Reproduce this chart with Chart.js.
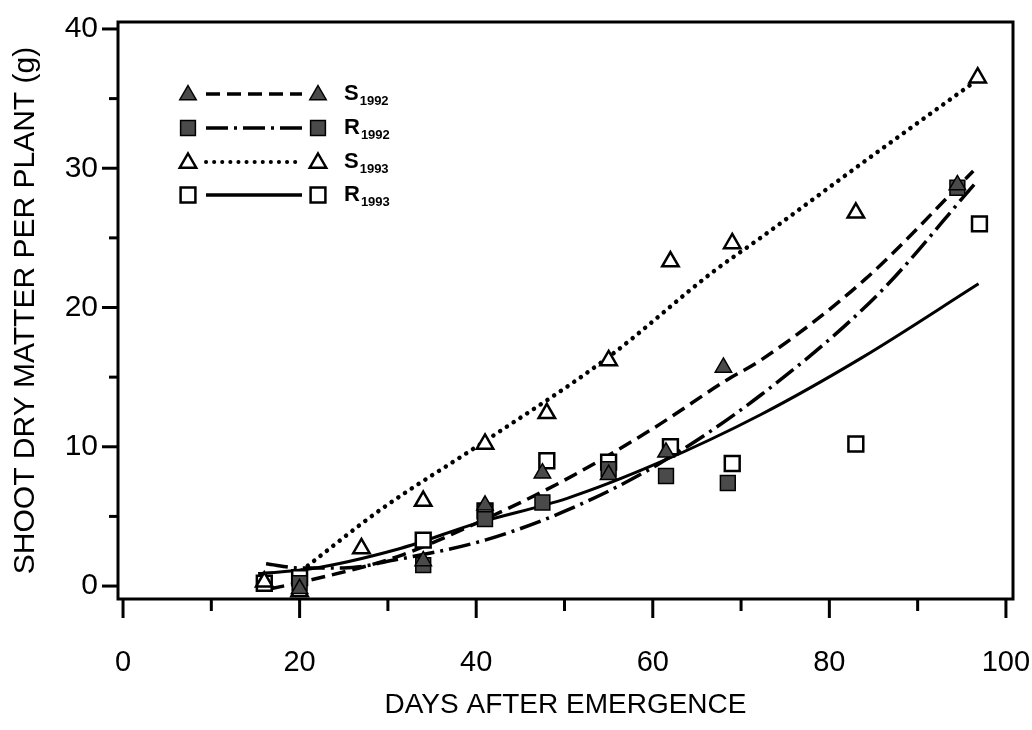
<!DOCTYPE html>
<html>
<head>
<meta charset="utf-8">
<script src="https://cdn.jsdelivr.net/npm/chart.js@4.4.1/dist/chart.umd.min.js"></script>
<style>
  html, body { margin: 0; padding: 0; background: #fff; }
  #wrap { width: 1032px; height: 730px; position: relative; }
</style>
</head>
<body>
<div id="wrap"><canvas id="chart"></canvas></div>
<script>
// measured points
const daysS1992 = [20, 34, 41, 47.5, 55, 61.5, 68, 94.5];
const valsS1992 = [-0.2, 1.8, 5.8, 8.1, 8.0, 9.6, 15.7, 28.8];
const daysR1992 = [20, 34, 41, 47.5, 55, 61.5, 68.5, 94.5];
const valsR1992 = [0.2, 1.5, 4.8, 6.0, 8.4, 7.9, 7.4, 28.6];
const daysS1993 = [16, 20, 27, 34, 41, 48, 55, 62, 69, 83, 96.8];
const valsS1993 = [0.3, -0.4, 2.7, 6.1, 10.2, 12.4, 16.2, 23.3, 24.6, 26.8, 36.5];
const daysR1993 = [16, 20, 34, 41, 48, 55, 62, 69, 83, 97];
const valsR1993 = [0.2, 0.6, 3.3, 5.4, 9.0, 8.9, 10.0, 8.8, 10.2, 26.0];

// fitted curves
const fitDaysS1992 = [16.7, 21, 31, 41, 50, 60, 68.4, 72.2, 84, 96.3];
const fitValsS1992 = [-0.2, 0.4, 2.1, 4.8, 7.6, 11.3, 14.8, 16.2, 22.0, 29.8];
const fitDaysR1992 = [16.2, 20, 25, 31, 41, 50.5, 60.5, 72.2, 85.6, 96.5];
const fitValsR1992 = [1.6, 1.3, 1.3, 1.9, 3.3, 5.5, 8.7, 13.7, 21.0, 28.9];
const fitDaysS1993 = [20.2, 29.2, 40.5, 54.9, 66.9, 72.2, 84, 96];
const fitValsS1993 = [1.1, 5.5, 10.2, 16.4, 22.6, 25.0, 30.5, 36.0];
const fitDaysR1993 = [15.3, 20.9, 31.4, 40, 50.3, 60.5, 72.2, 83.7, 96.9];
const fitValsR1993 = [0.9, 1.2, 2.7, 4.5, 6.3, 8.8, 12.3, 16.4, 21.7];

const xMajor = [0, 20, 40, 60, 80, 100];
const xMinor = [10, 30, 50, 70, 90];
const yMajor = [0, 10, 20, 30, 40];
const yMinor = [5, 15, 25, 35];

const legendRows = [
  { label: 'S', sub: '1992', style: 'triangle', filled: true, dash: [14, 7] },
  { label: 'R', sub: '1992', style: 'rect', filled: true, dash: [22, 6, 3, 6] },
  { label: 'S', sub: '1993', style: 'triangle', filled: false, dash: [0.1, 8] },
  { label: 'R', sub: '1993', style: 'rect', filled: false, dash: [] }
];

const GREY = '#4a4a4a';
const pts = (xs, ys) => xs.map((x, i) => ({ x: x, y: ys[i] }));

function markerSet(xs, ys, style, filled) {
  return {
    data: pts(xs, ys),
    showLine: false,
    pointStyle: style,
    pointRadius: style === 'triangle' ? 9.5 : 10.5,
    pointBackgroundColor: filled ? GREY : '#fff',
    pointBorderColor: '#000',
    pointBorderWidth: filled ? 1.5 : 2.5,
    order: filled ? 0 : 1
  };
}

function curveSet(xs, ys, dash, width, cap) {
  return {
    data: pts(xs, ys),
    showLine: true,
    pointRadius: 0,
    borderColor: '#000',
    borderWidth: width,
    borderDash: dash,
    borderCapStyle: cap || 'butt',
    cubicInterpolationMode: 'monotone',
    order: 5
  };
}

function drawMarker(ctx, style, filled, x, y) {
  ctx.save();
  ctx.beginPath();
  if (style === 'triangle') {
    const r = 9.5;
    ctx.moveTo(x, y - r);
    ctx.lineTo(x + r * 0.866, y + r * 0.5);
    ctx.lineTo(x - r * 0.866, y + r * 0.5);
    ctx.closePath();
  } else {
    const s = 7.4;
    ctx.rect(x - s, y - s, 2 * s, 2 * s);
  }
  ctx.fillStyle = filled ? GREY : '#fff';
  ctx.fill();
  ctx.lineWidth = filled ? 1.5 : 2.5;
  ctx.strokeStyle = '#000';
  ctx.stroke();
  ctx.restore();
}

const framePlugin = {
  id: 'frame',
  afterDraw(chart) {
    const ctx = chart.ctx;
    const a = chart.chartArea;
    const xs = chart.scales.x, ys = chart.scales.y;
    ctx.save();
    ctx.strokeStyle = '#000';
    ctx.lineWidth = 3;
    ctx.strokeRect(a.left, a.top, a.right - a.left, a.bottom - a.top);
    xMajor.concat(xMinor).forEach(v => {
      const px = xs.getPixelForValue(v);
      const len = xMajor.includes(v) ? 19 : 12;
      ctx.beginPath(); ctx.moveTo(px, a.bottom); ctx.lineTo(px, a.bottom + len); ctx.stroke();
    });
    yMajor.concat(yMinor).forEach(v => {
      const py = ys.getPixelForValue(v);
      const len = yMajor.includes(v) ? 16 : 9;
      ctx.beginPath(); ctx.moveTo(a.left, py); ctx.lineTo(a.left - len, py); ctx.stroke();
    });

    // legend
    const rowY = [94, 128, 162, 195];
    legendRows.forEach((row, i) => {
      const y = rowY[i];
      ctx.save();
      ctx.strokeStyle = '#000';
      ctx.lineWidth = i === 2 ? 4 : 3.5;
      ctx.lineCap = i === 2 ? 'round' : 'butt';
      ctx.setLineDash(row.dash);
      ctx.beginPath(); ctx.moveTo(206, y); ctx.lineTo(302, y); ctx.stroke();
      ctx.restore();
      drawMarker(ctx, row.style, row.filled, 188, y + (row.style === 'triangle' ? 1 : 0));
      drawMarker(ctx, row.style, row.filled, 318, y + (row.style === 'triangle' ? 1 : 0));
      ctx.fillStyle = '#000';
      ctx.textBaseline = 'middle';
      ctx.font = 'bold 22px "Liberation Sans", Arial, sans-serif';
      ctx.fillText(row.label, 344, y);
      const w = ctx.measureText(row.label).width;
      ctx.font = 'bold 13px "Liberation Sans", Arial, sans-serif';
      ctx.fillText(row.sub, 344 + w + 1, y + 7);
    });
    ctx.restore();
  }
};

new Chart(document.getElementById('chart'), {
  type: 'scatter',
  data: {
    datasets: [
      markerSet(daysS1992, valsS1992, 'triangle', true),
      markerSet(daysR1992, valsR1992, 'rect', true),
      markerSet(daysS1993, valsS1993, 'triangle', false),
      markerSet(daysR1993, valsR1993, 'rect', false),
      curveSet(fitDaysS1992, fitValsS1992, [14, 7], 3.5),
      curveSet(fitDaysR1992, fitValsR1992, [22, 6, 3, 6], 3.5),
      curveSet(fitDaysS1993, fitValsS1993, [0.1, 8], 4.5, 'round'),
      curveSet(fitDaysR1993, fitValsR1993, [], 3)
    ]
  },
  options: {
    responsive: true,
    maintainAspectRatio: false,
    animation: false,
    layout: { padding: { top: 22, right: 19, left: 0, bottom: 0 } },
    plugins: { legend: { display: false }, tooltip: { enabled: false } },
    scales: {
      x: {
        type: 'linear',
        min: -0.57,
        max: 100.8,
        grid: { display: false },
        border: { display: false },
        afterBuildTicks: s => { s.ticks = xMajor.map(v => ({ value: v })); },
        afterFit: s => { s.height = 131; s.paddingLeft = 0; s.paddingRight = 0; },
        ticks: {
          padding: 39,
          color: '#000',
          maxRotation: 0,
          font: { family: '"Liberation Sans", Arial, sans-serif', size: 29 }
        },
        title: {
          display: true,
          text: 'DAYS AFTER EMERGENCE',
          color: '#000',
          padding: { top: 0, bottom: 8 },
          font: { family: '"Liberation Sans", Arial, sans-serif', size: 28 }
        }
      },
      y: {
        type: 'linear',
        min: -0.93,
        max: 40.5,
        grid: { display: false },
        border: { display: false },
        afterBuildTicks: s => { s.ticks = yMajor.map(v => ({ value: v })); },
        afterFit: s => { s.width = 118; s.paddingTop = 0; s.paddingBottom = 0; },
        ticks: {
          padding: 12,
          color: '#000',
          font: { family: '"Liberation Sans", Arial, sans-serif', size: 30 }
        },
        title: {
          display: true,
          text: 'SHOOT DRY MATTER PER PLANT (g)',
          color: '#000',
          padding: { top: 8, bottom: 0 },
          font: { family: '"Liberation Sans", Arial, sans-serif', size: 30 }
        }
      }
    }
  },
  plugins: [framePlugin]
});
</script>
</body>
</html>
